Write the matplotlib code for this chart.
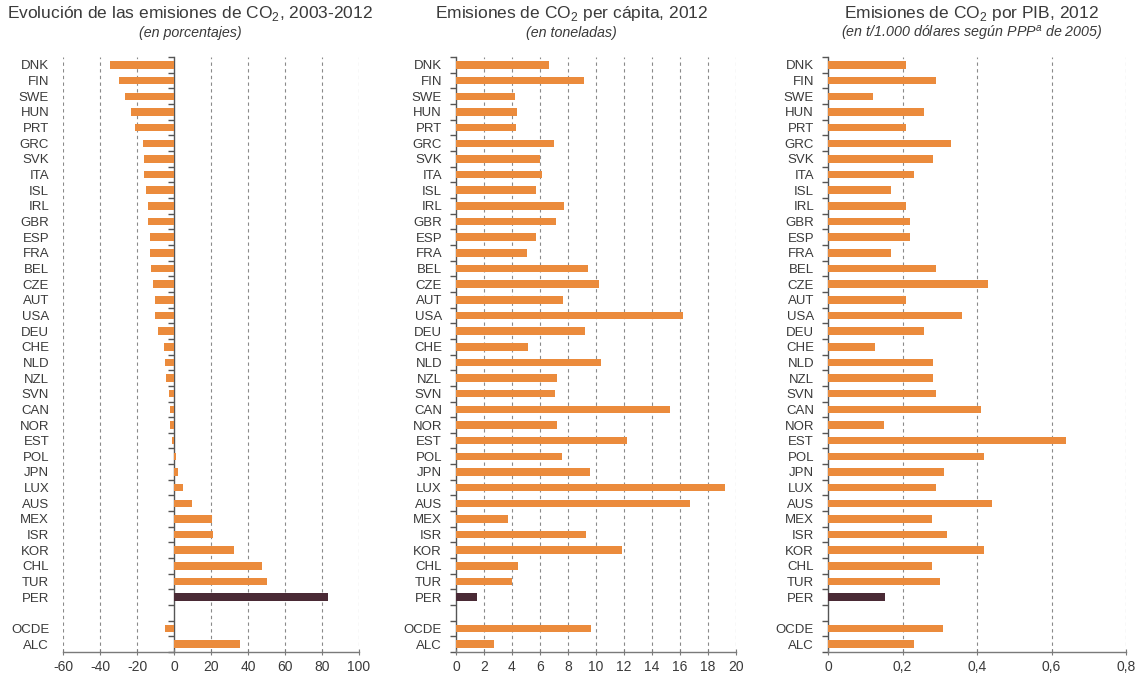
import numpy as np
import matplotlib
matplotlib.use("Agg")
import matplotlib.pyplot as plt

plt.rcParams['font.family'] = ['Liberation Sans', 'DejaVu Sans']
plt.rcParams['mathtext.fontset'] = 'custom'
plt.rcParams['mathtext.rm'] = 'Liberation Sans'

# Country order (top to bottom); a blank slot separates PER from the aggregates
countries = ["DNK", "FIN", "SWE", "HUN", "PRT", "GRC", "SVK", "ITA", "ISL", "IRL",
             "GBR", "ESP", "FRA", "BEL", "CZE", "AUT", "USA", "DEU", "CHE", "NLD",
             "NZL", "SVN", "CAN", "NOR", "EST", "POL", "JPN", "LUX", "AUS", "MEX",
             "ISR", "KOR", "CHL", "TUR", "PER"]
aggregates = ["OCDE", "ALC"]

# Evolución de las emisiones de CO2, 2003-2012 (%)
evolucion = [-34.8, -29.9, -26.3, -23.2, -20.9, -16.6, -16.2, -16.2, -15.1, -14.2,
             -13.9, -13.2, -12.8, -12.6, -11.2, -10.5, -10.5, -8.5, -5.2, -4.9,
             -4.1, -2.9, -2.3, -2.2, -0.9, 1.3, 2.2, 5.0, 9.5, 20.7,
             21.1, 32.3, 47.4, 50.3, 83.2]
evolucion_agg = [-4.9, 35.9]

# Emisiones per cápita, 2012 (toneladas)
per_capita = [6.64, 9.14, 4.24, 4.38, 4.31, 6.98, 5.98, 6.12, 5.71, 7.74,
              7.17, 5.74, 5.07, 9.45, 10.24, 7.67, 16.19, 9.21, 5.17, 10.33,
              7.21, 7.05, 15.29, 7.19, 12.19, 7.6, 9.6, 19.24, 16.71, 3.69,
              9.29, 11.86, 4.43, 4.0, 1.52]
per_capita_agg = [9.67, 2.71]

# Emisiones por PIB, 2012 (t / 1.000 dólares PPP 2005)
por_pib = [0.21, 0.29, 0.12, 0.258, 0.21, 0.331, 0.281, 0.23, 0.169, 0.21,
           0.219, 0.219, 0.17, 0.29, 0.43, 0.21, 0.36, 0.258, 0.127, 0.281,
           0.281, 0.29, 0.41, 0.15, 0.639, 0.42, 0.31, 0.29, 0.44, 0.28,
           0.319, 0.42, 0.28, 0.30, 0.153]
por_pib_agg = [0.309, 0.23]

x_ticks_1 = [-60, -40, -20, 0, 20, 40, 60, 80, 100]
x_ticks_2 = [0, 2, 4, 6, 8, 10, 12, 14, 16, 18, 20]
x_ticks_3 = [0, 0.2, 0.4, 0.6, 0.8]
x_labels_3 = ["0", "0,2", "0,4", "0,6", "0,8"]

ORANGE = '#EB8B3C'
DARK = '#4A2A35'
TEXT = '#3a3a3a'

labels = countries + [""] + aggregates
n_slots = len(labels)
ypos_c = np.arange(len(countries))
ypos_a = np.arange(len(countries) + 1, n_slots)

fig = plt.figure(figsize=(11.38, 6.79), dpi=100)
bottom, height = 0.0398, 0.876
axes_specs = [
    (0.0554, 0.2601, evolucion, evolucion_agg, x_ticks_1, [str(t) for t in x_ticks_1]),
    (0.4007, 0.2460, per_capita, per_capita_agg, x_ticks_2, [str(t) for t in x_ticks_2]),
    (0.7276, 0.2619, por_pib, por_pib_agg, x_ticks_3, x_labels_3),
]

for left, width, vals, agg, xt, xl in axes_specs:
    ax = fig.add_axes([left, bottom, width, height])
    colors = [ORANGE] * (len(vals) - 1) + [DARK]
    ax.barh(ypos_c, vals, height=0.48, color=colors, zorder=3)
    ax.barh(ypos_a, agg, height=0.48, color=ORANGE, zorder=3)
    ax.set_xlim(xt[0], xt[-1])
    ax.set_ylim(n_slots - 0.5, -0.5)

    # dashed grid lines (not at zero, where the axis line sits)
    for t in xt:
        if t != 0:
            ax.axvline(t, color='#8a8a8a', lw=0.8, ls=(0, (3, 3)), zorder=1)

    for s in ['top', 'right', 'left']:
        ax.spines[s].set_visible(False)
    ax.spines['bottom'].set_color('#7a7a7a')
    ax.spines['bottom'].set_linewidth(1.0)

    ax.set_xticks(xt)
    ax.set_xticklabels(xl)
    ax.tick_params(axis='x', direction='inout', length=5, color='#7a7a7a',
                   labelsize=10, labelcolor=TEXT, pad=3)
    ax.set_yticks(np.arange(n_slots))
    ax.set_yticklabels(labels)
    ax.tick_params(axis='y', length=0, labelsize=9.5, labelcolor=TEXT, pad=10)

    # vertical axis at zero with ticks between categories
    loc = (0 - xt[0]) / (xt[-1] - xt[0])
    sec = ax.secondary_yaxis(loc)
    sec.set_yticks(np.arange(-0.5, n_slots, 1.0))
    sec.tick_params(length=4, color='#555555', labelleft=False, width=1.0)
    sec.spines['left'].set_color('#555555')
    sec.spines['left'].set_linewidth(1.0)

titles = [
    (0.167, "Evolución de las emisiones de CO$_{\\mathregular{2}}$, 2003-2012", "(en porcentajes)"),
    (0.502, "Emisiones de CO$_{\\mathregular{2}}$ per cápita, 2012", "(en toneladas)"),
    (0.854, "Emisiones de CO$_{\\mathregular{2}}$ por PIB, 2012",
     "(en t/1.000 dólares según PPP$^{\\mathregular{a}}$ de 2005)"),
]
for xc, t1, t2 in titles:
    fig.text(xc, 1 - 13.5 / 679, t1, ha='center', va='center', fontsize=12.5, color=TEXT)
    fig.text(xc, 1 - 33 / 679, t2, ha='center', va='center', fontsize=10.3,
             style='italic', color=TEXT)

fig.savefig("out.png", dpi=100)
